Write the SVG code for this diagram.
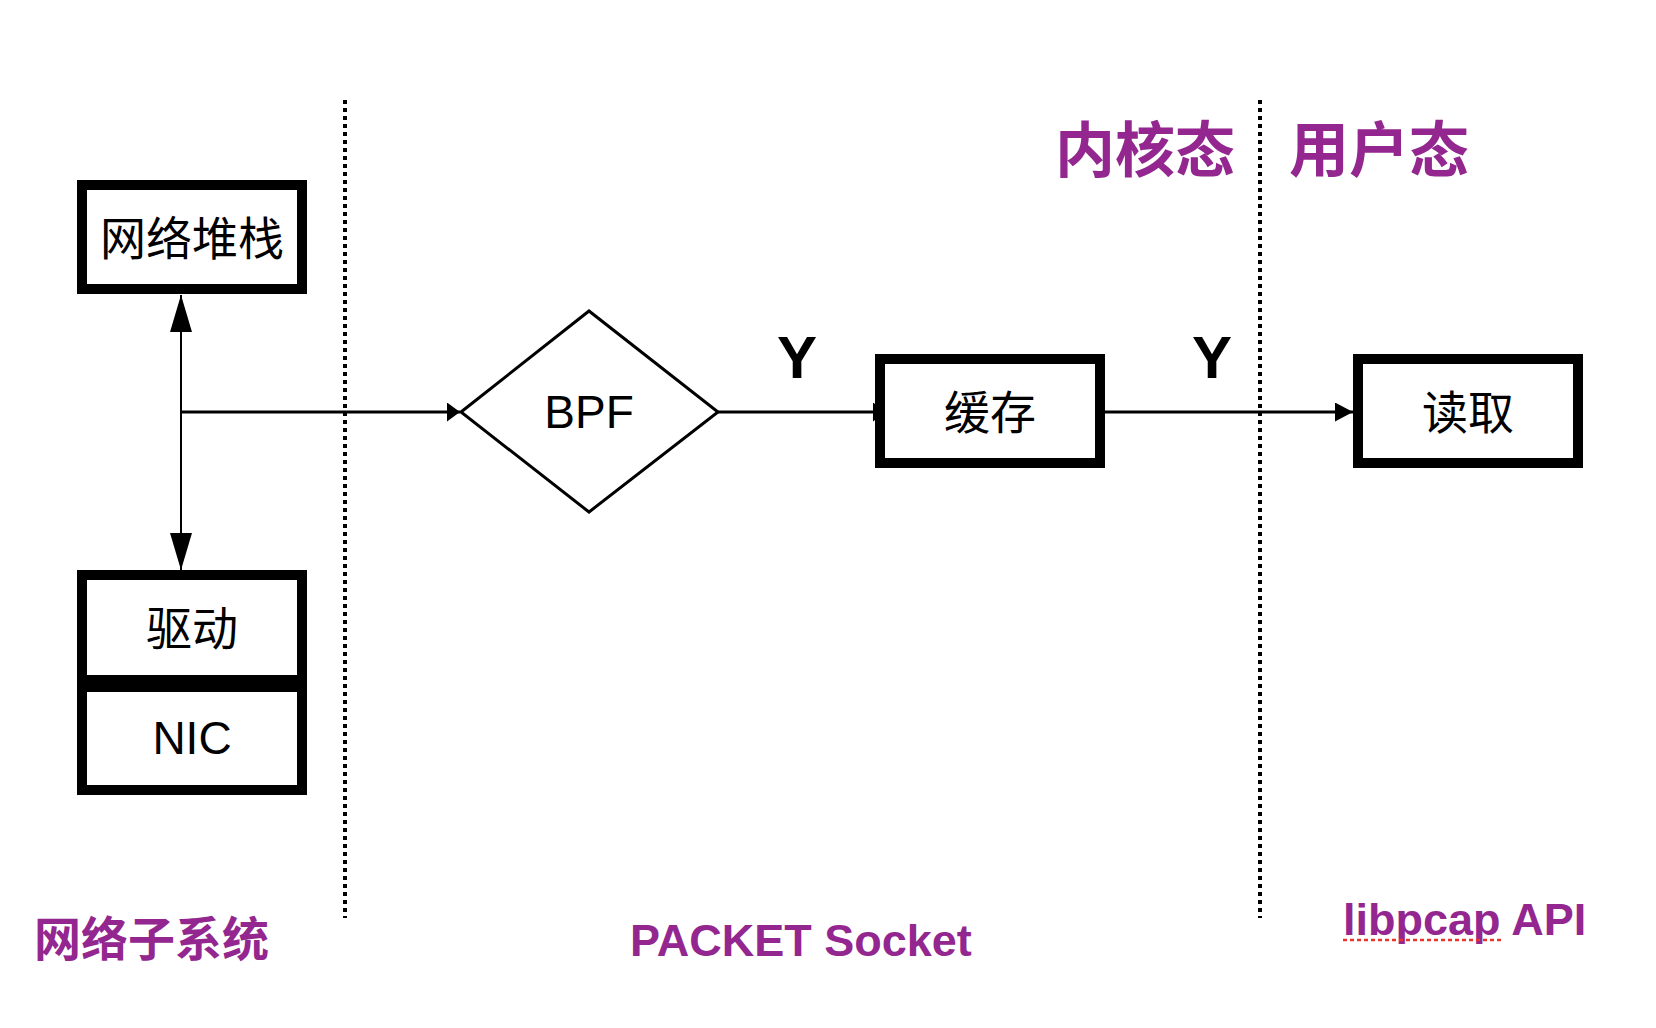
<svg xmlns="http://www.w3.org/2000/svg" width="1656" height="1028" viewBox="0 0 1656 1028">
<style>
.box{fill:#fff;stroke:#000;stroke-width:10}
.dia{fill:#fff;stroke:#000;stroke-width:3}
.cjk{font-family:"Noto Sans CJK SC","Noto Sans",sans-serif;font-size:46px;fill:#000;text-anchor:middle;dominant-baseline:central}
.lat{font-family:"Liberation Sans",Arial,sans-serif;font-size:46px;fill:#000;text-anchor:middle}
.y{font-family:"Liberation Sans",Arial,sans-serif;font-size:60px;font-weight:bold;fill:#000;text-anchor:middle}
.pcj{font-family:"Noto Sans CJK SC","Noto Sans",sans-serif;font-weight:bold;fill:#93278F;dominant-baseline:central}
.plat{font-family:"Liberation Sans",Arial,sans-serif;font-size:45px;font-weight:bold;fill:#93278F}
.dot{stroke:#000;stroke-width:4;stroke-dasharray:4 4;fill:none}
.ln{stroke:#000;fill:none}
</style>
<defs>
<marker id="hs" markerUnits="userSpaceOnUse" markerWidth="13" markerHeight="19" refX="13" refY="9.5" orient="auto"><path d="M0,0 L13,9.5 L0,19 z" fill="#000"/></marker>
<marker id="hm" markerUnits="userSpaceOnUse" markerWidth="18" markerHeight="19" refX="18" refY="9.5" orient="auto"><path d="M0,0 L18,9.5 L0,19 z" fill="#000"/></marker>
<marker id="hb" markerUnits="userSpaceOnUse" markerWidth="37" markerHeight="22" refX="37" refY="11" orient="auto-start-reverse"><path d="M0,0 L37,11 L0,22 z" fill="#000"/></marker>
</defs>
<rect width="1656" height="1028" fill="#fff"/>
<g id="dividers">
<line class="dot" x1="345" y1="100" x2="345" y2="918"/>
<line class="dot" x1="1260" y1="100" x2="1260" y2="918"/>
</g>
<g id="connectors">
<line class="ln" stroke-width="2" x1="181" y1="295" x2="181" y2="570" marker-start="url(#hb)" marker-end="url(#hb)"/>
<line class="ln" stroke-width="3" x1="181" y1="412" x2="460" y2="412" marker-end="url(#hs)"/>
<line class="ln" stroke-width="3" x1="718" y1="412" x2="886" y2="412" marker-end="url(#hs)"/>
<line class="ln" stroke-width="3" x1="1105" y1="412" x2="1353" y2="412" marker-end="url(#hm)"/>
<text class="y" x="797" y="378">Y</text>
<text class="y" x="1212" y="378">Y</text>
</g>
<g id="node-stack">
<rect class="box" x="82" y="185" width="220" height="104"/>
<text class="cjk" x="192" y="235">网络堆栈</text>
</g>
<g id="node-driver">
<rect class="box" x="82" y="575" width="220" height="105"/>
<text class="cjk" x="192" y="625">驱动</text>
</g>
<g id="node-nic">
<rect class="box" x="82" y="687" width="220" height="103"/>
<text class="lat" x="192" y="754">NIC</text>
</g>
<g id="node-bpf">
<polygon class="dia" points="461,412 589,311 718,412 589,512"/>
<text class="lat" x="589" y="428">BPF</text>
</g>
<g id="node-cache">
<rect class="box" x="880" y="359" width="220" height="104"/>
<text class="cjk" x="990" y="409">缓存</text>
</g>
<g id="node-read">
<rect class="box" x="1358" y="359" width="220" height="104"/>
<text class="cjk" x="1468" y="409">读取</text>
</g>
<g id="labels">
<text class="pcj" x="1055" y="145" font-size="60">内核态</text>
<text class="pcj" x="1289" y="145" font-size="60">用户态</text>
<text class="pcj" x="34" y="935" font-size="47">网络子系统</text>
<text class="plat" x="630" y="956">PACKET Socket</text>
<text class="plat" x="1343" y="935">libpcap API</text>
<line x1="1343" y1="940" x2="1501" y2="940" stroke="#E8352B" stroke-width="2.5" stroke-dasharray="4 3"/>
</g>
</svg>
